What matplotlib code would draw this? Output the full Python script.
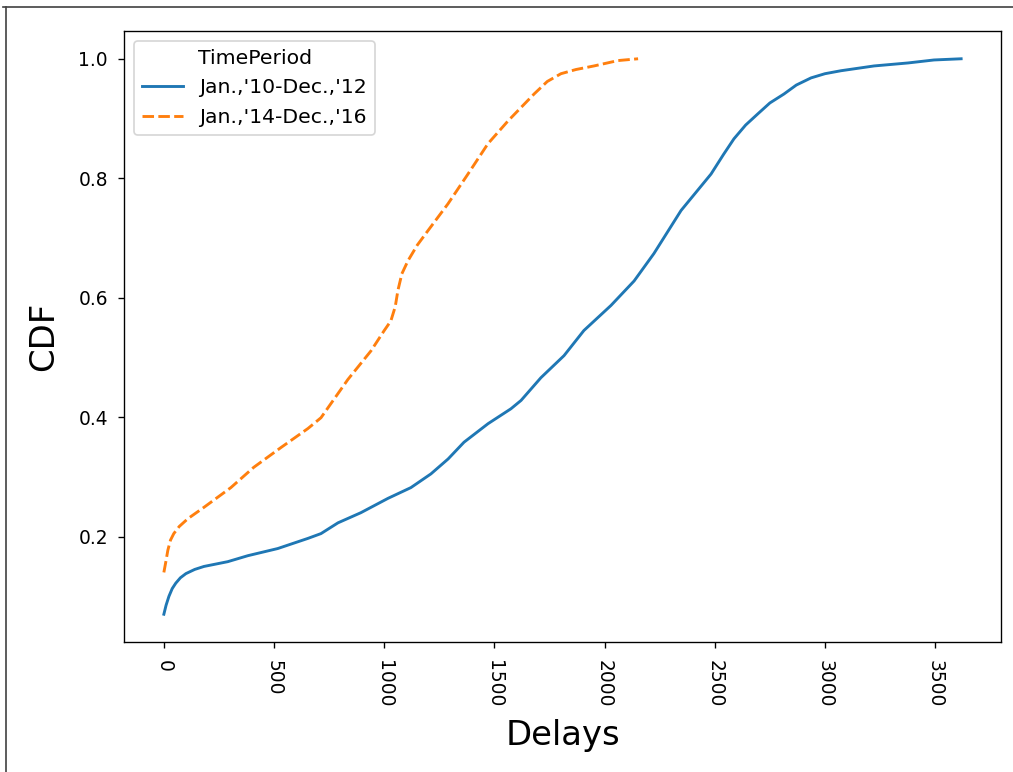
import matplotlib
matplotlib.use('Agg')
import matplotlib.pyplot as plt
from matplotlib.lines import Line2D

# delays / CDF values
delay_1012 = [0, 10, 23, 38, 54, 75, 100, 140, 182, 290, 381, 517, 654, 713, 790,
              894, 1017, 1121, 1212, 1290, 1362, 1471, 1575, 1621, 1711, 1816,
              1906, 2029, 2134, 2224, 2347, 2483, 2540, 2587, 2640, 2696, 2750,
              2814, 2870, 2937, 3000, 3073, 3223, 3377, 3495, 3618]
cdf_1012 = [0.070, 0.085, 0.100, 0.113, 0.122, 0.131, 0.138, 0.145, 0.150, 0.158,
            0.168, 0.180, 0.197, 0.205, 0.223, 0.240, 0.264, 0.282, 0.305, 0.330,
            0.358, 0.389, 0.414, 0.428, 0.466, 0.503, 0.545, 0.587, 0.628, 0.674,
            0.746, 0.807, 0.840, 0.866, 0.889, 0.908, 0.926, 0.941, 0.956, 0.968,
            0.975, 0.980, 0.988, 0.993, 0.998, 1.0]

delay_1416 = [0, 10, 18, 30, 45, 70, 109, 182, 304, 408, 531, 654, 713, 835, 940,
              1000, 1030, 1050, 1062, 1080, 1108, 1150, 1198, 1289, 1380, 1471,
              1562, 1680, 1740, 1802, 1870, 1952, 2061, 2152]
cdf_1416 = [0.140, 0.160, 0.177, 0.194, 0.205, 0.217, 0.230, 0.249, 0.282, 0.316,
            0.349, 0.381, 0.399, 0.463, 0.511, 0.545, 0.561, 0.585, 0.612, 0.640,
            0.662, 0.688, 0.712, 0.757, 0.807, 0.858, 0.896, 0.941, 0.962, 0.975,
            0.982, 0.988, 0.997, 1.0]

labels = ["Jan.,'10-Dec.,'12", "Jan.,'14-Dec.,'16"]

dpi = 122
fig = plt.figure(figsize=(1013 / dpi, 772 / dpi), dpi=dpi)
ax = fig.add_axes([124 / 1013, 1 - 642 / 772, (1001 - 124) / 1013, (642 - 31) / 772])

ax.plot(delay_1012, cdf_1012, color='#1f77b4', lw=1.7, label=labels[0])
ax.plot(delay_1416, cdf_1416, color='#ff7f0e', lw=1.7, dashes=(4, 1.5), label=labels[1])

ax.set_xticks([0, 500, 1000, 1500, 2000, 2500, 3000, 3500])
ax.tick_params(axis='both', labelsize=11)
ax.tick_params(axis='x', pad=7)
ax.tick_params(axis='y', pad=6)
plt.setp(ax.get_xticklabels(), rotation=-90)
ax.set_xlabel('Delays', fontsize=20, labelpad=7)
ax.set_ylabel('CDF', fontsize=20, labelpad=10.5)
ax.legend(title='TimePeriod', loc='upper left', fontsize=12, title_fontsize=12)

# screenshot frame on left and top
fig.add_artist(Line2D([6 / 1013, 6 / 1013], [0, 1 - 7 / 772], transform=fig.transFigure,
                      color='#444444', lw=1))
fig.add_artist(Line2D([3 / 1013, 1], [1 - 7 / 772, 1 - 7 / 772], transform=fig.transFigure,
                      color='#444444', lw=1))

fig.savefig('out.png', dpi=dpi)
